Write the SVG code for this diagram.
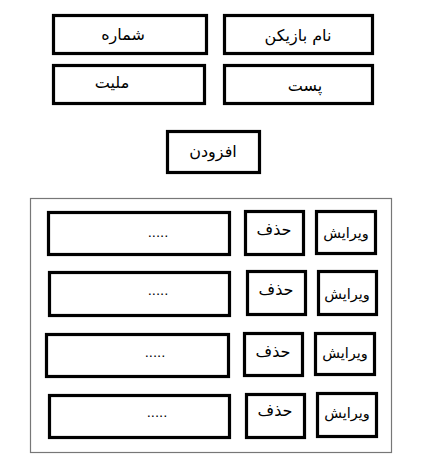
<svg xmlns="http://www.w3.org/2000/svg" width="438" height="461" viewBox="0 0 438 461">
<style>
.b{fill:#fff;stroke:#000;stroke-width:3.2}
.c{fill:#fff;stroke:#777;stroke-width:1.2}
.t{font-family:"DejaVu Sans","Noto Sans",sans-serif;font-size:16px;fill:#000;text-anchor:middle;dominant-baseline:central}
.e{font-size:14.5px}
.d{font-family:"DejaVu Sans",sans-serif;font-size:13px;fill:#000;text-anchor:middle}
</style>
<rect width="438" height="461" fill="#fff"/>
<g id="num"><rect class="b" x="53.5" y="15.5" width="153" height="38"/><text class="t" x="123" y="34">شماره</text></g>
<g id="name"><rect class="b" x="224.5" y="15.5" width="148" height="38"/><text class="t" x="298" y="35">نام بازیکن</text></g>
<g id="nat"><rect class="b" x="53.5" y="65.5" width="151" height="38"/><text class="t" x="112" y="82">ملیت</text></g>
<g id="post"><rect class="b" x="224.5" y="65.5" width="148" height="38"/><text class="t" x="305" y="85">پست</text></g>
<g id="add"><rect class="b" x="167.5" y="131.5" width="92" height="41"/><text class="t" x="213" y="151">افزودن</text></g>
<g id="list"><rect class="c" x="30.5" y="198.5" width="361" height="254"/></g>
<g id="row1">
<rect class="b" x="48.5" y="212.5" width="181" height="42"/><text class="d" x="158" y="237">.....</text>
<rect class="b" x="245.5" y="211.5" width="58" height="43"/><text class="t" x="274" y="229">حذف</text>
<rect class="b" x="316.5" y="211.5" width="59" height="42"/><text class="t e" x="346" y="233">ویرایش</text>
</g>
<g id="row2">
<rect class="b" x="49.5" y="272.5" width="180" height="43"/><text class="d" x="158" y="295">.....</text>
<rect class="b" x="247.5" y="271.5" width="58" height="43"/><text class="t" x="276" y="289">حذف</text>
<rect class="b" x="318.5" y="271.5" width="58" height="43"/><text class="t e" x="347" y="294">ویرایش</text>
</g>
<g id="row3">
<rect class="b" x="46.5" y="334.5" width="182" height="42"/><text class="d" x="155" y="357">.....</text>
<rect class="b" x="244.5" y="333.5" width="58" height="42"/><text class="t" x="273" y="351">حذف</text>
<rect class="b" x="315.5" y="333.5" width="59" height="41"/><text class="t e" x="345" y="353">ویرایش</text>
</g>
<g id="row4">
<rect class="b" x="49.5" y="395.5" width="180" height="42"/><text class="d" x="157" y="417">.....</text>
<rect class="b" x="246.5" y="394.5" width="58" height="43"/><text class="t" x="275" y="410">حذف</text>
<rect class="b" x="317.5" y="393.5" width="59" height="43"/><text class="t e" x="347" y="413">ویرایش</text>
</g>
</svg>
